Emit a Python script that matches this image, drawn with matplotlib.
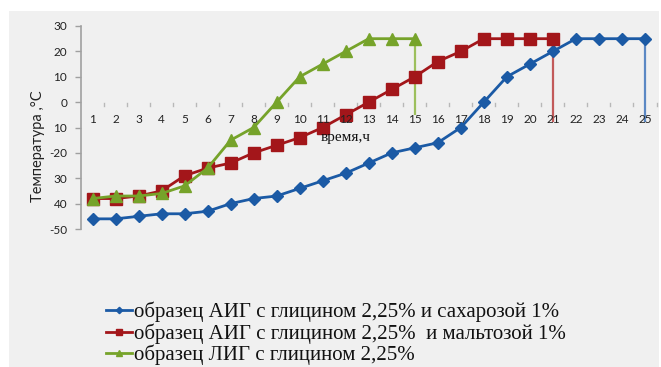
import matplotlib
matplotlib.use("Agg")
import matplotlib.pyplot as plt
from matplotlib.patches import Rectangle
import numpy as np

# ---- data ----
hours = list(range(1, 26))
sucrose = [-46, -46, -45, -44, -44, -43, -40, -38, -37, -34, -31, -28, -24,
           -20, -18, -16, -10, 0, 10, 15, 20, 25, 25, 25, 25]
maltose = [-38, -38, -37, -35, -29, -26, -24, -20, -17, -14, -10, -5, 0,
           5, 10, 16, 20, 25, 25, 25, 25]
glycine = [-38, -37, -37, -36, -33, -26, -15, -10, 0, 10, 15, 20, 25, 25, 25]

labels = ["образец АИГ с глицином 2,25% и сахарозой 1%",
          "образец АИГ с глицином 2,25%  и мальтозой 1%",
          "образец ЛИГ с глицином 2,25%"]
colors = ["#1b5aa5", "#a3161a", "#76a32a"]
drop_colors = ["#5b88c4", "#c25a5a", "#9cbf5c"]
drop_bottom = [-8, -8, -5]

yticks = [-50, -40, -30, -20, -10, 0, 10, 20, 30]
ytick_labels = ["-50", "40", "30", "-20", "10", "0", "10", "20", "30"]
xlabel = "время,ч"
ylabel = "Температура ,°С"

W, H = 661, 367
fig = plt.figure(figsize=(W / 100, H / 100), dpi=100)
fig.patch.set_facecolor("white")
fig.patches.append(Rectangle((9 / W, 0), 650 / W, 1 - 11 / H,
                             transform=fig.transFigure, facecolor="#f0f0f0",
                             edgecolor="none", zorder=-5))

left, right = 81 / W, 656.5 / W
top, bottom = 1 - 26 / H, 1 - 229 / H
ax = fig.add_axes([left, bottom, right - left, top - bottom])
ax.set_facecolor("none")
ax.set_zorder(2)

series = [sucrose, maltose, glycine]
markers = ["D", "s", "^"]
msizes = [6.5, 8.5, 8.5]
handles = []
for vals, c, dc, m, ms, lab, db in zip(series, colors, drop_colors, markers,
                                       msizes, labels, drop_bottom):
    xs = hours[:len(vals)]
    ax.vlines(xs[-1], db, vals[-1], color=dc, lw=1.6, zorder=2)
    h, = ax.plot(xs, vals, color=c, lw=2, marker=m, ms=ms, mec=c, mfc=c,
                 label=lab, zorder=3, clip_on=False)
    handles.append(h)

ax.set_xlim(0.5, 25.5)
ax.set_ylim(-50, 30)

for s in ["top", "right", "bottom"]:
    ax.spines[s].set_visible(False)
ax.spines["left"].set_color("#a0a0a0")
ax.spines["left"].set_linewidth(1.2)

ax.set_yticks(yticks)
ax.set_yticklabels(ytick_labels, fontsize=8.5, family="Lato", color="#222222")
ax.tick_params(axis="y", length=4, width=1, color="#a0a0a0", pad=6)

# x axis: ticks between categories at y=0, labels below, no line
ax.set_xticks([])
for v in np.arange(1.5, 26, 1.0):
    ax.plot([v, v], [-0.3, -1.6], color="#b8b8b8", lw=1, zorder=1,
            clip_on=False)
for hr in hours:
    ax.text(hr, -7.0, str(hr), ha="center", va="center", fontsize=8.5,
            family="Lato", color="#222222", zorder=4)

ax.text(12.0, -13.8, xlabel, ha="center", va="center", fontsize=11,
        family="Liberation Serif", color="#111111", zorder=4)

fig.text(38 / W, 1 - 146 / H, ylabel, rotation=90, ha="center", va="center",
         fontsize=10.5, family="Lato", color="#222222")

leg = fig.legend(handles=handles, labels=labels, loc="upper left",
                 bbox_to_anchor=(106 / W, 1 - 302 / H), frameon=False,
                 prop={"family": "Liberation Serif", "size": 15},
                 handlelength=1.25, handletextpad=0.1, labelspacing=0.04,
                 borderpad=0, borderaxespad=0, markerscale=0.5)
for t in leg.get_texts():
    t.set_color("#111111")

fig.savefig("out.png", dpi=100)
